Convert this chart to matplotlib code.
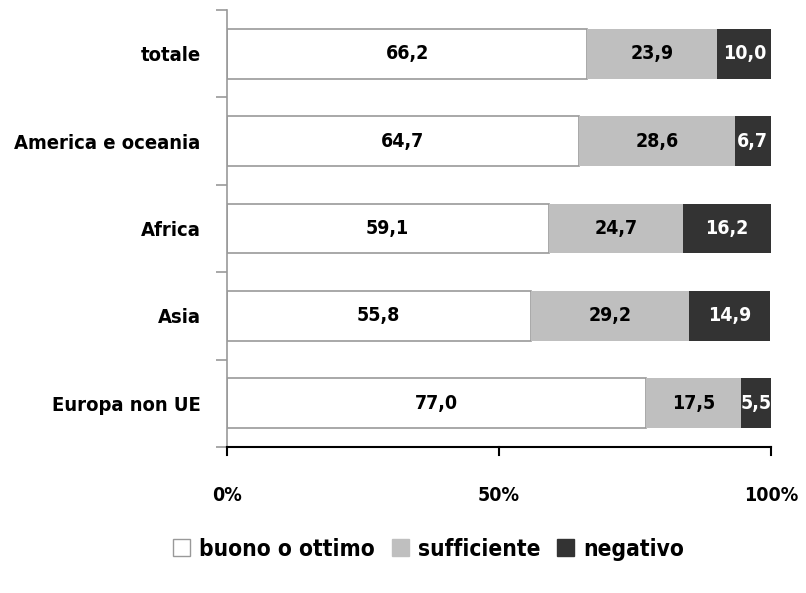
import matplotlib
matplotlib.use("Agg")
import matplotlib.pyplot as plt
from matplotlib import font_manager as fm
from matplotlib.patches import Patch

# pick a condensed bold font if one is installed
cands = []
for f in fm.fontManager.ttflist:
    st = str(f.stretch)
    nm = f.name.lower()
    w = f.weight if isinstance(f.weight, int) else {"bold": 700, "normal": 400}.get(f.weight, 400)
    cond = ("condensed" in st) or ("narrow" in nm) or ("condensed" in nm) or ("condensed" in f.fname.lower()) or ("narrow" in f.fname.lower())
    if cond and w >= 600 and f.style == "normal":
        cands.append(f)
cands.sort(key=lambda f: (0 if "liberation" in f.fname.lower() else 1 if "dejavu" in f.fname.lower() else 2, f.fname))
if cands:
    FP = fm.FontProperties(fname=cands[0].fname)
else:
    FP = fm.FontProperties(family="DejaVu Sans", weight="bold")

categories = ["totale", "America e oceania", "Africa", "Asia", "Europa non UE"]
buono = [66.2, 64.7, 59.1, 55.8, 77.0]
sufficiente = [23.9, 28.6, 24.7, 29.2, 17.5]
negativo = [10.0, 6.7, 16.2, 14.9, 5.5]
series_names = ["buono o ottimo", "sufficiente", "negativo"]
xtick_labels = ["0%", "50%", "100%"]

fs = 14
def fp(size=fs):
    p = FP.copy()
    p.set_size(size)
    return p

fig = plt.figure(figsize=(8.06, 5.93), dpi=100)
ax = fig.add_axes([0.2816, 0.2462, 0.6750, 0.737])

y = list(range(len(categories)))
h = 0.57
ax.barh(y, buono, height=h, color="white", edgecolor="#999999", linewidth=1.2)
ax.barh(y, sufficiente, left=buono, height=h, color="#BFBFBF", linewidth=0)
left3 = [a + b for a, b in zip(buono, sufficiente)]
ax.barh(y, negativo, left=left3, height=h, color="#333333", linewidth=0)

for i in y:
    ax.text(buono[i] / 2, i, f"{buono[i]:.1f}".replace(".", ","), ha="center", va="center", fontproperties=fp(), color="black")
    ax.text(buono[i] + sufficiente[i] / 2, i, f"{sufficiente[i]:.1f}".replace(".", ","), ha="center", va="center", fontproperties=fp(), color="black")
    ax.text(left3[i] + negativo[i] / 2, i, f"{negativo[i]:.1f}".replace(".", ","), ha="center", va="center", fontproperties=fp(), color="white")

ax.set_xlim(0, 100)
ax.set_ylim(len(categories) - 0.5, -0.5)
ax.set_xticks([0, 50, 100])
ax.set_xticklabels(xtick_labels, fontproperties=fp())
ax.tick_params(axis="x", direction="in", length=0, pad=28)
for xv in [0, 50, 100]:
    ax.plot([xv, xv], [len(categories) - 0.5, len(categories) - 0.5 + 0.09], color="black", lw=1.5, clip_on=False)
ax.plot([0, 0], [len(categories) - 0.5, len(categories) - 0.5 + 0.09], color="#999999", lw=1.2, clip_on=False, zorder=1)

ax.set_yticks(y)
ax.set_yticklabels(categories, fontproperties=fp(14.5))
ax.tick_params(axis="y", length=0, pad=19)
ax.set_yticks([i - 0.5 for i in range(len(categories) + 1)], minor=True)
ax.tick_params(axis="y", which="minor", length=8, color="#999999", width=1.2)

for s in ["top", "right"]:
    ax.spines[s].set_visible(False)
ax.spines["left"].set_color("#999999")
ax.spines["left"].set_linewidth(1.2)
ax.spines["bottom"].set_color("black")
ax.spines["bottom"].set_linewidth(1.5)

handles = [Patch(facecolor="white", edgecolor="#999999"),
           Patch(facecolor="#BFBFBF", edgecolor="#BFBFBF"),
           Patch(facecolor="#333333", edgecolor="#333333")]
fig.legend(handles, series_names, loc="center", bbox_to_anchor=(0.532, 0.074), ncol=3,
           frameon=False, handlelength=0.75, handleheight=0.75,
           handletextpad=0.4, columnspacing=0.75, prop=fp(16.3))

fig.savefig("out.png", dpi=100)
